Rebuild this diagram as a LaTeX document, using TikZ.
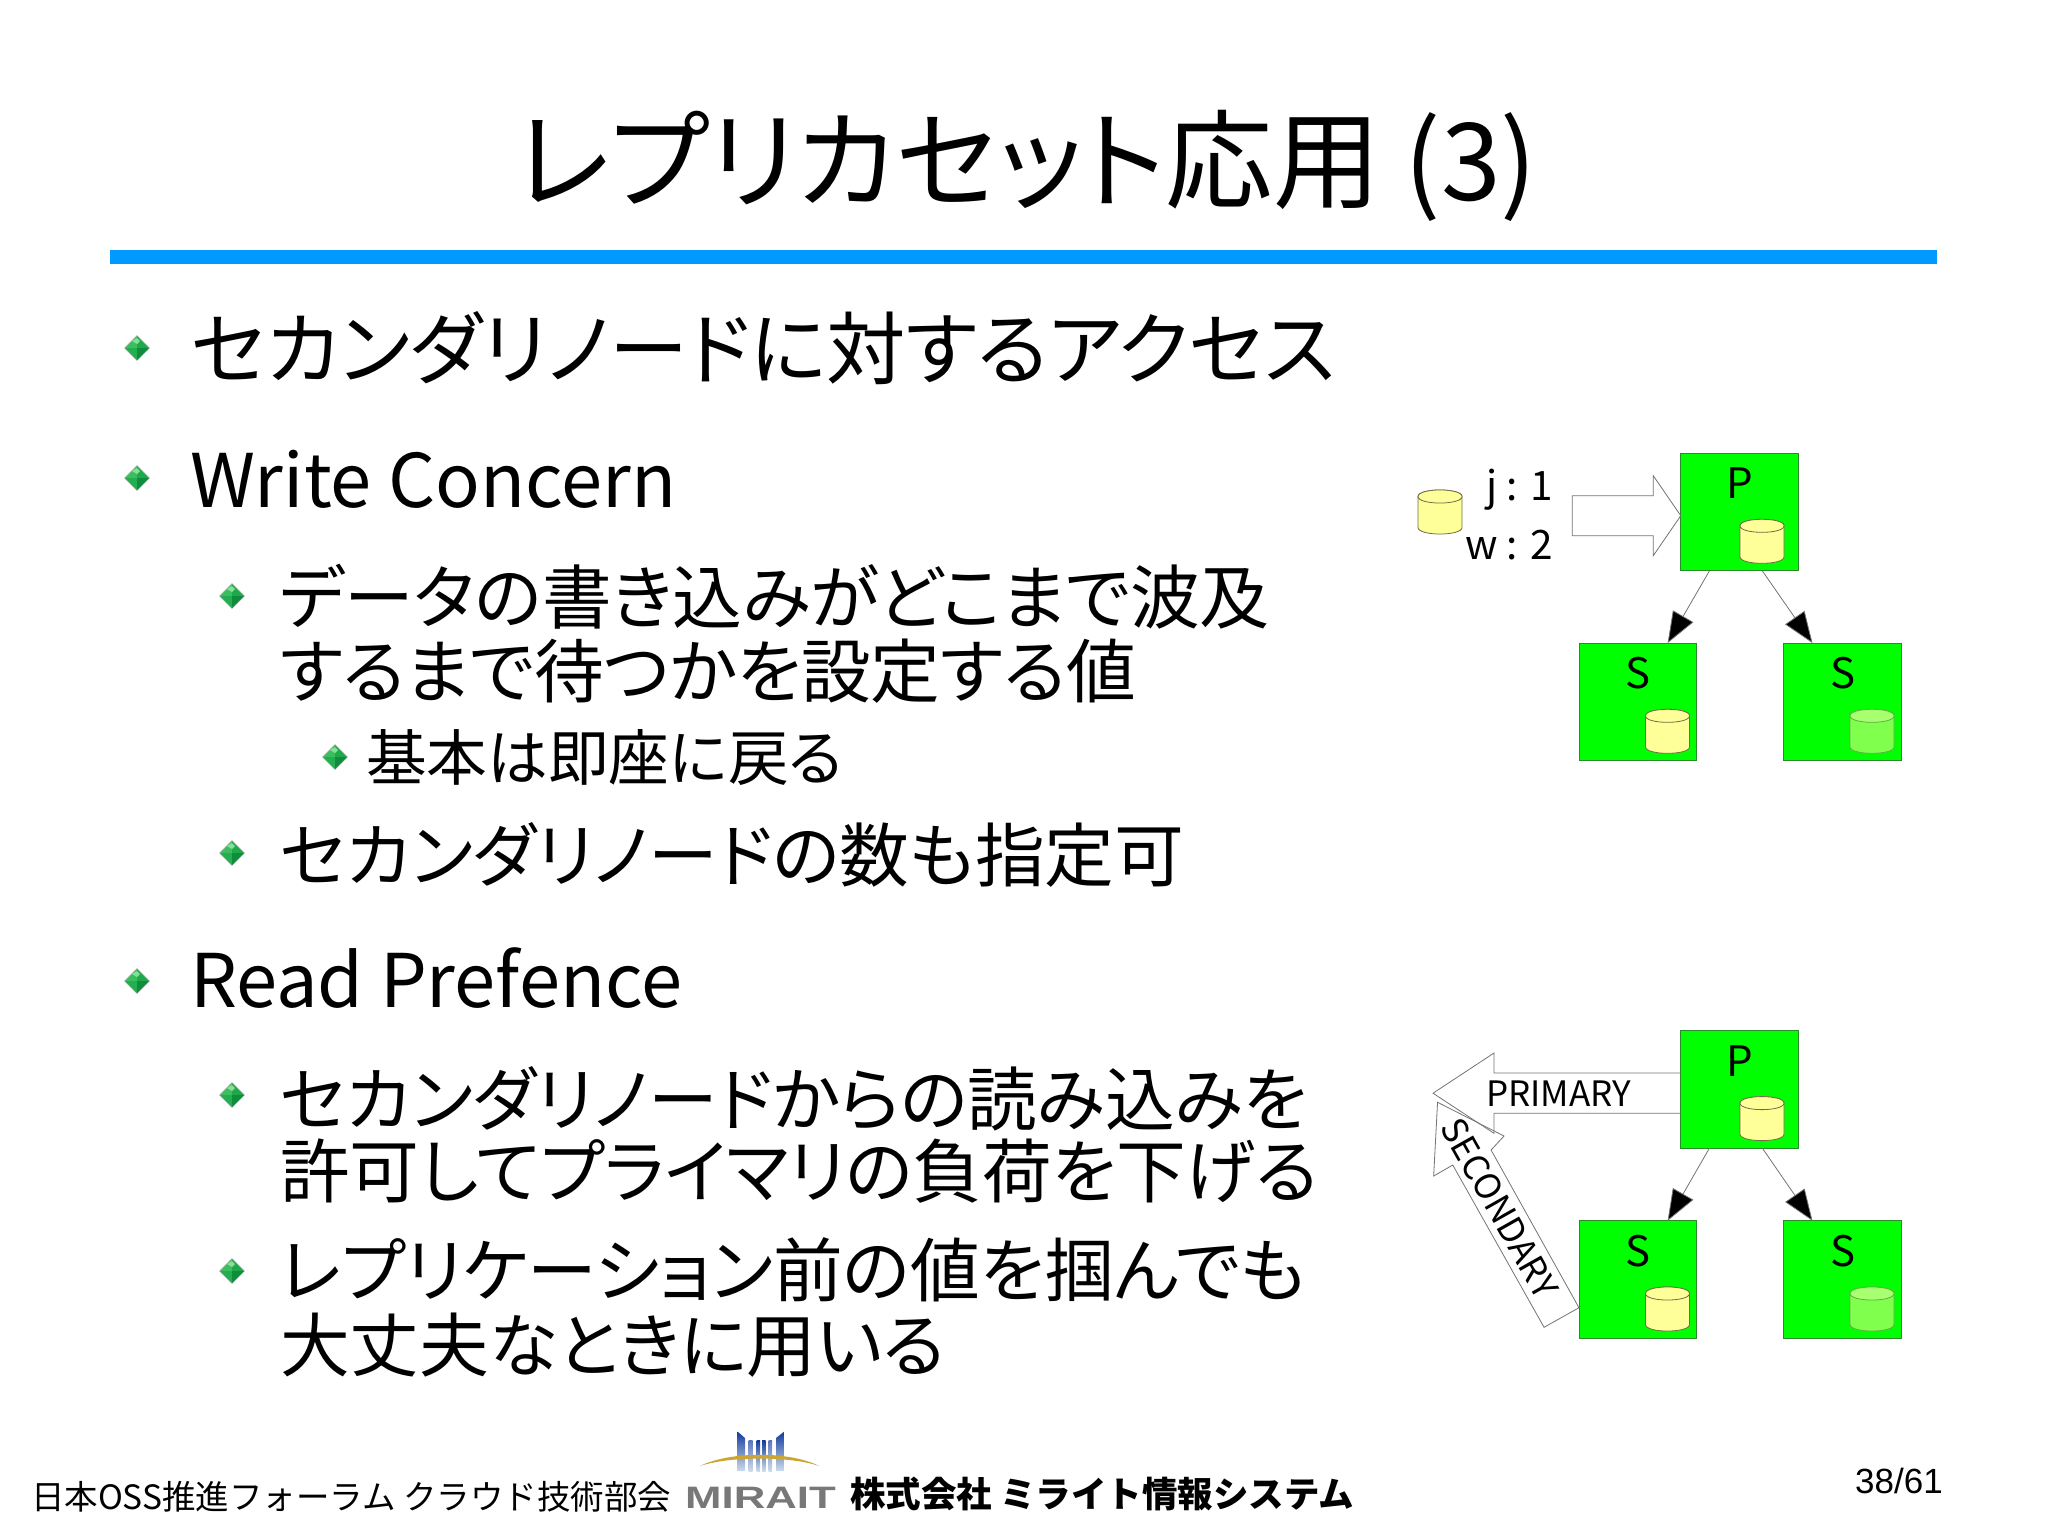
\documentclass[tikz,border=0pt]{standalone}
\usepackage{fontspec}
\usepackage{graphicx}
\setmainfont{Noto Sans CJK JP}[RawFeature={+palt}]
\newfontfamily\plainjp{Noto Sans CJK JP}
\newfontfamily\arialish{Liberation Sans}
\usetikzlibrary{arrows.meta,calc}
\definecolor{rule}{RGB}{0,153,255}
\definecolor{boxgreen}{RGB}{0,255,0}
\definecolor{boxedge}{RGB}{40,140,40}
\definecolor{dbyellow}{RGB}{255,255,153}
\definecolor{dbedge}{RGB}{110,110,70}
\definecolor{dbgreen}{RGB}{128,255,76}
\definecolor{dbgreentop}{RGB}{168,255,112}
\definecolor{dbgreenedge}{RGB}{95,175,70}
\definecolor{logogold}{RGB}{205,165,50}
\definecolor{logoblue}{RGB}{20,60,160}
\definecolor{logopale}{RGB}{205,220,235}
\definecolor{logogray}{RGB}{120,120,120}
\definecolor{gemtl}{RGB}{60,190,95}
\definecolor{gemtr}{RGB}{30,170,75}
\definecolor{gembl}{RGB}{35,175,80}
\definecolor{gembr}{RGB}{15,140,60}
\definecolor{gemhi}{RGB}{130,225,150}
\newcommand{\fs}[1]{\fontsize{#1}{#1}\selectfont}
\tikzset{
  x=1pt,y=-1pt,
  txt/.style={anchor=base west,inner sep=0pt,outer sep=0pt},
  lone/.style={txt,font=\fs{74}},
  lonecjk/.style={txt,font=\fs{79.2}},
  ltwo/.style={txt,font=\fs{69.7}},
  lthree/.style={txt,font=\fs{60.7}},
  srvbox/.style={draw=boxedge,line width=0.7pt,fill=boxgreen,minimum width=117.5pt,minimum height=117.5pt,inner sep=0pt,outer sep=0pt},
  srvlabel/.style={inner sep=0pt,font=\fs{42}},
  sidelabel/.style={anchor=base east,inner sep=0pt,font=\fs{40.5}},
  thinarrow/.style={draw=black!55,line width=0.8pt,-{Triangle[length=31pt,width=23.5pt,fill=black]}},
  blockarrow/.style={draw=black!55,line width=0.8pt,line join=miter},
  pics/dbcyl/.style n args={3}{code={
    \draw[draw=#3,fill=#1,line width=0.8pt] (-22,-15.5) -- (-22,15.5) .. controls (-22,24.2) and (22,24.2) .. (22,15.5) -- (22,-15.5) .. controls (22,-24.2) and (-22,-24.2) .. (-22,-15.5) -- cycle;
    \draw[draw=#3,fill=#2,line width=0.8pt] (-22,-15.5) .. controls (-22,-6.8) and (22,-6.8) .. (22,-15.5) .. controls (22,-24.2) and (-22,-24.2) .. (-22,-15.5) -- cycle;
  }},
  pics/gembullet/.style={code={
    \fill[black!30] (0,-12.8) -- (12.8,0) -- (0,12.8) -- (-12.8,0) -- cycle;
    \fill[gemtl] (0,-12) -- (-12,0) -- (0,0) -- cycle;
    \fill[gemtr] (0,-12) -- (12,0) -- (0,0) -- cycle;
    \fill[gembl] (-12,0) -- (0,12) -- (0,0) -- cycle;
    \fill[gembr] (12,0) -- (0,12) -- (0,0) -- cycle;
    \fill[gemhi] (-5,-7) -- (0,-10) -- (3,-7) -- (0,-4) -- cycle;
  }},
}
\begin{document}
\begin{tikzpicture}
\useasboundingbox (0,0) rectangle (2048,1535);
% title
\node[anchor=base,inner sep=0pt,font=\fs{107.5}] (title) at (1026,200) {レプリカセット応用 (3)};
\fill[rule] (110,250) rectangle (1937,264);
% bullets
\pic at (137,348) {gembullet};
\pic at (137,478) {gembullet};
\pic at (232,596) {gembullet};
\pic at (335,757) {gembullet};
\pic at (232,853) {gembullet};
\pic at (137,981) {gembullet};
\pic at (232,1095) {gembullet};
\pic at (232,1271) {gembullet};
% body text
\node[lonecjk] (t1) at (191,378) {セカンダリノードに対するアクセス};
\node[lone] (t2) at (190,507) {Write Concern};
\node[ltwo] (t3) at (280,623) {データの書き込みがどこまで波及};
\node[ltwo] (t4) at (280,697) {するまで待つかを設定する値};
\node[lthree] (t5) at (366,780) {基本は即座に戻る};
\node[ltwo] (t6) at (280,881) {セカンダリノードの数も指定可};
\node[lone] (t7) at (190,1007) {Read Prefence};
\node[ltwo] (t8) at (280,1125) {セカンダリノードからの読み込みを};
\node[ltwo] (t9) at (280,1197) {許可してプライマリの負荷を下げる};
\node[ltwo] (t10) at (280,1296) {レプリケーション前の値を掴んでも};
\node[ltwo] (t11) at (280,1371) {大丈夫なときに用いる};
% upper diagram
\node[srvbox] (P1) at (1739.5,512) {};
\node[srvbox] (S1) at (1637.7,701.8) {};
\node[srvbox] (S2) at (1842.5,701.8) {};
\node[srvlabel] (P1t) at (1740,483.3) {P};
\node[srvlabel] (S1t) at (1638.2,673.3) {S};
\node[srvlabel] (S2t) at (1842.5,673.3) {S};
\pic at (1762,541.3) {dbcyl={dbyellow}{dbyellow}{dbedge}};
\pic at (1667.5,731.3) {dbcyl={dbyellow}{dbyellow}{dbedge}};
\pic at (1872,731.3) {dbcyl={dbgreen}{dbgreentop}{dbgreenedge}};
\pic at (1440,512) {dbcyl={dbyellow}{dbyellow}{dbedge}};
\node[sidelabel] (jl) at (1553,500.7) {j : 1};
\node[sidelabel] (wl) at (1553,559.3) {w : 2};
\draw[blockarrow] ([yshift=-3.7pt]P1.west) -- ++(-27.5,-40) -- ++(0,20) -- ++(-81,0) -- ++(0,40) -- ++(81,0) -- ++(0,20) -- cycle;
\draw[thinarrow] ([xshift=28.7pt]P1.south west) -- ([xshift=88.7pt]S1.north west);
\draw[thinarrow] ([xshift=81.5pt]P1.south west) -- ([xshift=28.7pt]S2.north west);
% lower diagram
\node[srvbox] (P2) at (1739.5,1089.3) {};
\node[srvbox] (S3) at (1637.7,1279.5) {};
\node[srvbox] (S4) at (1842.5,1279.5) {};
\node[srvlabel] (P2t) at (1740,1060.6) {P};
\node[srvlabel] (S3t) at (1638.2,1251) {S};
\node[srvlabel] (S4t) at (1842.5,1251) {S};
\pic at (1762,1118.6) {dbcyl={dbyellow}{dbyellow}{dbedge}};
\pic at (1667.5,1309) {dbcyl={dbyellow}{dbyellow}{dbedge}};
\pic at (1872,1309) {dbcyl={dbgreen}{dbgreentop}{dbgreenedge}};
\draw[blockarrow] ([yshift=16.3pt]P2.west) -- ++(-186.75,0) -- ++(0,-20) -- ++(-61,40.2) -- ++(61,40.1) -- ++(0,-20) -- ++(186.75,0);
\draw[blockarrow] ([yshift=-28.2pt]S3.west) -- ++(-34.9,19.6) -- ++(-91.3,-162.3) -- ++(-19.1,11) -- ++(3.9,-73.7) -- ++(66.5,33.7) -- ++(-13,14) -- cycle;
\draw[thinarrow] ([xshift=28.7pt]P2.south west) -- ([xshift=88.7pt]S3.north west);
\draw[thinarrow] ([xshift=81.5pt]P2.south west) -- ([xshift=28.7pt]S4.north west);
\node[anchor=base west,inner sep=0pt,font=\fs{35}] (prim) at (1486,1106.7) {PRIMARY};
\node[rotate=-60.6,inner sep=0pt,font=\fs{35}] (sec) at (1499.8,1208) {SECONDARY};
% footer
\node[txt,font=\fs{33.5}\plainjp] (foot) at (31,1509) {日本OSS推進フォーラム クラウド技術部会};
\shade[top color=logoblue,bottom color=logopale] (737.7,1431.7) -- (745,1438) -- (745,1471) -- (737.7,1471) -- cycle;
\shade[top color=logoblue,bottom color=logopale] (784,1431.7) -- (776,1438) -- (776,1471) -- (784,1471) -- cycle;
\shade[top color=logoblue!70!white,bottom color=logopale] (748.5,1440.5) rectangle (752.5,1471);
\shade[top color=logoblue,bottom color=logopale] (756.5,1440.5) rectangle (760,1471);
\shade[top color=logoblue,bottom color=logopale] (762,1440.5) rectangle (765.5,1471);
\shade[top color=logoblue!70!white,bottom color=logopale] (768.5,1440.5) rectangle (772,1471);
\fill[logogold] (700,1466) .. controls (730,1451) and (790,1451) .. (819.3,1466) .. controls (790,1456) and (730,1456) .. (700,1466) -- cycle;
\node[inner sep=0pt,text=logogray,font=\fs{31}\arialish\bfseries] (mirait) at (760.5,1498) {\scalebox{1.41}[1]{MIRAIT}};
\node[txt,font=\fs{35.5}\plainjp\bfseries] (corp) at (850,1507) {株式会社 ミライト情報システム};
\node[anchor=base east,inner sep=0pt,font=\fs{35}\arialish] (pageno) at (1943,1493) {38/61};
\end{tikzpicture}
\end{document}
